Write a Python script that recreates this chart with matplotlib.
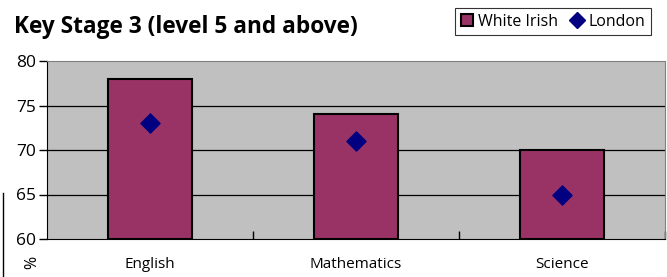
import matplotlib
matplotlib.use("Agg")
import matplotlib.pyplot as plt
from matplotlib.lines import Line2D
from matplotlib.patches import Patch

categories = ["English", "Mathematics", "Science"]
white_irish = [78, 74, 70]
london = [73, 71, 65]
y_ticks = [60, 65, 70, 75, 80]

plt.rcParams["font.family"] = ["Open Sans", "DejaVu Sans"]

fig = plt.figure(figsize=(6.67, 2.77), dpi=100, facecolor="white")
ax = fig.add_axes([47 / 667, 38 / 277, 618 / 667, 178 / 277])
ax.set_facecolor("#C0C0C0")

x = list(range(len(categories)))
ax.bar(x, [v - 60 for v in white_irish], bottom=60, width=0.41,
       color="#993366", edgecolor="black", linewidth=1.5, zorder=3)
ax.scatter(x, london, marker="D", s=95, color="#000080", zorder=4)

ax.set_xlim(-0.5, 2.5)
ax.set_ylim(60, 80)
ax.set_yticks(y_ticks)
ax.set_yticklabels([str(t) for t in y_ticks], fontsize=12.5)
for t in y_ticks[1:-1]:
    ax.axhline(t, color="black", linewidth=0.9, zorder=1)

ax.set_xticks([0.5, 1.5, 2.5])
ax.set_xticklabels([])
ax.set_xticks(x, minor=True)
ax.set_xticklabels(categories, minor=True, fontsize=11)
ax.tick_params(axis="x", which="minor", length=0, pad=13)
ax.tick_params(axis="x", which="major", direction="in", length=6,
               width=1, color="black")
ax.tick_params(axis="y", direction="out", length=6, width=1, pad=2)

for side in ["top", "right"]:
    ax.spines[side].set_color("#808080")
ax.spines["left"].set_color("black")
ax.spines["bottom"].set_color("black")

fig.text(14 / 667, 1 - 27 / 277, "Key Stage 3 (level 5 and above)",
         fontsize=16.3, fontweight="bold", va="center", ha="left",
         family=["Open Sans", "DejaVu Sans"])
fig.text(32 / 667, 1 - 262 / 277, "%", rotation=90, fontsize=11.5,
         va="center", ha="center")
fig.add_artist(Line2D([2.5 / 667, 2.5 / 667], [0, 84 / 277],
                      color="black", linewidth=1))

handles = [Patch(facecolor="#993366", edgecolor="black", linewidth=1.5),
           Line2D([], [], marker="D", linestyle="none", color="#000080",
                  markersize=8)]
leg = fig.legend(handles, ["White Irish", "London"], loc="center",
                 bbox_to_anchor=(553 / 667, 1 - 21.5 / 277), ncol=2,
                 frameon=True, fancybox=False, fontsize=11.5,
                 handlelength=0.8, handletextpad=0.3, columnspacing=0.8,
                 borderpad=0.35, borderaxespad=0)
leg.get_frame().set_edgecolor("black")
leg.get_frame().set_linewidth(0.8)

fig.savefig("out.png", dpi=100, facecolor="white")
